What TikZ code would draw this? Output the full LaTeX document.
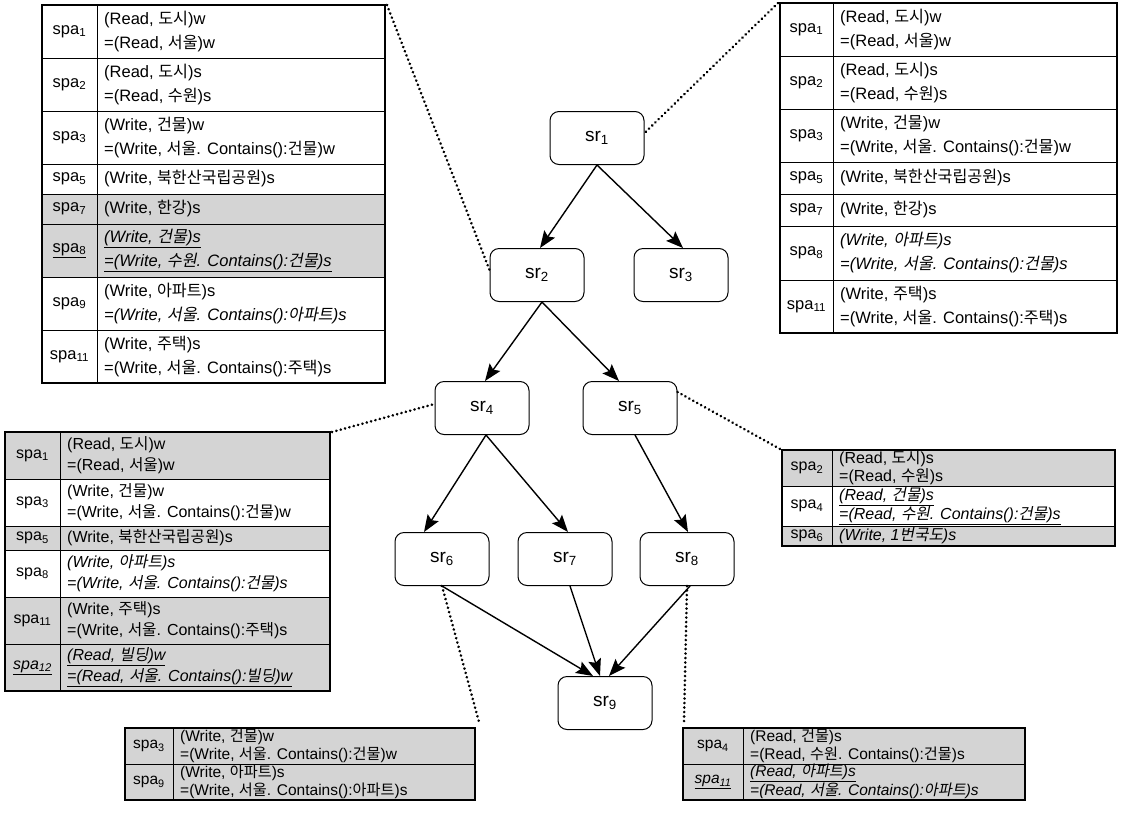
\documentclass[tikz,border=0pt]{standalone}
\usepackage{fontspec}
\setmainfont{Liberation Sans}
\newfontfamily\krfont{Noto Sans CJK KR}[Scale=0.98, ItalicFont={Noto Sans CJK KR}, ItalicFeatures={FakeSlant=0.2}]
\newcommand\kor[1]{{\krfont #1}}
\newcommand\spa[1]{spa\textsubscript{#1}}
\newcommand\srn[1]{sr\textsubscript{#1}}
\usetikzlibrary{arrows.meta}

\tikzset{
  srbox/.style={draw, line width=1pt, rounded corners=9pt, fill=white,
    minimum width=94pt, minimum height=53pt, inner sep=0pt,
    font=\fontsize{19}{19}\selectfont},
  flow/.style={-{Stealth[length=17pt,width=13pt,inset=3pt]}, line width=1.4pt},
  dotline/.style={line width=2.8pt, dash pattern=on 0.1pt off 4.4pt, line cap=round},
  rowline/.style={line width=0.9pt},
  frame/.style={line width=1.8pt},
  spalab/.style={inner sep=0pt, anchor=center, font=\spafont},
  spatext/.style={inner sep=0pt, anchor=west, align=left, font=\spafont},
}
\colorlet{cellgray}{black!17}

% one table row: name, top, bottom, fill, label, text
\newcommand\sparow[6]{%
  \fill[#4] (\spaL,#2) rectangle (\spaR,#3);
  \draw[rowline] (\spaL,#2) -- (\spaR,#2);
  \node[spalab] (#1-l) at ({(\spaL+\spaD)/2},{(#2+#3)/2}) {#5};
  \node[spatext] (#1-t) at ({\spaD+7},{(#2+#3)/2}) {#6};
}
% divider and outer frame of a table: top, bottom
\newcommand\spaframe[2]{%
  \draw[rowline] (\spaD,#1) -- (\spaD,#2);
  \draw[frame] (\spaL,#1) rectangle (\spaR,#2);
}

\begin{document}
\begin{tikzpicture}[x=1pt,y=-1pt]
\useasboundingbox[fill=white] (0,0) rectangle (1121,836);

% ---- table attached to sr2 ----
\def\spafont{\fontsize{16.5}{24}\selectfont}
\def\spaL{42}\def\spaD{97}\def\spaR{385}
\sparow{a1}{5}{58}{white}{\spa{1}}{(Read, \kor{도시})w\\=(Read, \kor{서울})w}
\sparow{a2}{58}{111}{white}{\spa{2}}{(Read, \kor{도시})s\\=(Read, \kor{수원})s}
\sparow{a3}{111}{164}{white}{\spa{3}}{(Write, \kor{건물})w\\=(Write, \kor{서울}. Contains():\kor{건물})w}
\sparow{a5}{164}{194}{white}{\spa{5}}{(Write, \kor{북한산국립공원})s}
\sparow{a7}{194}{224}{cellgray}{\spa{7}}{(Write, \kor{한강})s}
\sparow{a8}{224}{277}{cellgray}{\underline{\spa{8}}}{\underline{\itshape (Write, \kor{건물})s}\\\underline{\itshape =(Write, \kor{수원}. Contains():\kor{건물})s}}
\sparow{a9}{277}{330}{white}{\spa{9}}{(Write, \kor{아파트})s\\{\itshape =(Write, \kor{서울}. Contains():\kor{아파트})s}}
\sparow{a11}{330}{383}{white}{\spa{11}}{(Write, \kor{주택})s\\=(Write, \kor{서울}. Contains():\kor{주택})s}
\spaframe{5}{383}
\coordinate (a-ne) at (387,5);

% ---- table attached to sr1 ----
\def\spaL{780}\def\spaD{833}\def\spaR{1117}
\sparow{b1}{3}{56}{white}{\spa{1}}{(Read, \kor{도시})w\\=(Read, \kor{서울})w}
\sparow{b2}{56}{109}{white}{\spa{2}}{(Read, \kor{도시})s\\=(Read, \kor{수원})s}
\sparow{b3}{109}{162}{white}{\spa{3}}{(Write, \kor{건물})w\\=(Write, \kor{서울}. Contains():\kor{건물})w}
\sparow{b5}{162}{194}{white}{\spa{5}}{(Write, \kor{북한산국립공원})s}
\sparow{b7}{194}{226}{white}{\spa{7}}{(Write, \kor{한강})s}
\sparow{b8}{226}{280}{white}{\spa{8}}{{\itshape (Write, \kor{아파트})s}\\{\itshape =(Write, \kor{서울}. Contains():\kor{건물})s}}
\sparow{b11}{280}{333}{white}{\spa{11}}{(Write, \kor{주택})s\\=(Write, \kor{서울}. Contains():\kor{주택})s}
\spaframe{3}{333}
\coordinate (b-nw) at (778,3);

% ---- table attached to sr4 ----
\def\spafont{\fontsize{16}{21}\selectfont}
\def\spaL{5}\def\spaD{60}\def\spaR{330}
\sparow{c1}{432}{479}{cellgray}{\spa{1}}{(Read, \kor{도시})w\\=(Read, \kor{서울})w}
\sparow{c3}{479}{526}{white}{\spa{3}}{(Write, \kor{건물})w\\=(Write, \kor{서울}. Contains():\kor{건물})w}
\sparow{c5}{526}{550}{cellgray}{\spa{5}}{(Write, \kor{북한산국립공원})s}
\sparow{c8}{550}{597}{white}{\spa{8}}{{\itshape (Write, \kor{아파트})s}\\{\itshape =(Write, \kor{서울}. Contains():\kor{건물})s}}
\sparow{c11}{597}{644}{cellgray}{\spa{11}}{(Write, \kor{주택})s\\=(Write, \kor{서울}. Contains():\kor{주택})s}
\sparow{c12}{644}{691}{cellgray}{\underline{\itshape\spa{12}}}{\underline{\itshape (Read, \kor{빌딩})w}\\\underline{\itshape =(Read, \kor{서울}. Contains():\kor{빌딩})w}}
\spaframe{432}{691}
\coordinate (c-ne) at (332,432);

% ---- table attached to sr5 ----
\def\spafont{\fontsize{16}{18}\selectfont}
\def\spaL{782}\def\spaD{832}\def\spaR{1115}
\sparow{d2}{450}{486}{cellgray}{\spa{2}}{(Read, \kor{도시})s\\=(Read, \kor{수원})s}
\sparow{d4}{486}{526}{white}{\spa{4}}{\underline{\itshape (Read, \kor{건물})s}\\\underline{\itshape =(Read, \kor{수원}. Contains():\kor{건물})s}}
\sparow{d6}{526}{546}{cellgray}{\spa{6}}{{\itshape (Write, 1\kor{번국도})s}}
\spaframe{450}{546}
\coordinate (d-nw) at (780,449);

% ---- table attached to sr6 ----
\def\spafont{\fontsize{15.5}{17.5}\selectfont}
\def\spaL{125}\def\spaD{173}\def\spaR{475}
\sparow{e3}{728}{764}{cellgray}{\spa{3}}{(Write, \kor{건물})w\\=(Write, \kor{서울}. Contains():\kor{건물})w}
\sparow{e9}{764}{800}{cellgray}{\spa{9}}{(Write, \kor{아파트})s\\=(Write, \kor{서울}. Contains():\kor{아파트})s}
\spaframe{728}{800}
\coordinate (e-ne) at (479,722);

% ---- table attached to sr8 ----
\def\spaL{683}\def\spaD{743}\def\spaR{1025}
\sparow{f4}{728}{764}{cellgray}{\spa{4}}{(Read, \kor{건물})s\\=(Read, \kor{수원}. Contains():\kor{건물})s}
\sparow{f11}{764}{800}{cellgray}{\underline{\itshape\spa{11}}}{\underline{\itshape (Read, \kor{아파트})s}\\\underline{\itshape =(Read, \kor{서울}. Contains():\kor{아파트})s}}
\spaframe{728}{800}
\coordinate (f-nw) at (684,722);

% ---- graph nodes ----
\node[srbox] (sr1) at (597,138) {\srn{1}};
\node[srbox] (sr2) at (537,275) {\srn{2}};
\node[srbox] (sr3) at (681,275) {\srn{3}};
\node[srbox] (sr4) at (482,408) {\srn{4}};
\node[srbox] (sr5) at (630,408) {\srn{5}};
\node[srbox] (sr6) at (442,559) {\srn{6}};
\node[srbox] (sr7) at (565,559) {\srn{7}};
\node[srbox] (sr8) at (687,559) {\srn{8}};
\node[srbox] (sr9) at (605,703) {\srn{9}};

% ---- edges ----
\draw[flow] (sr1.south) -- ([xshift=3pt]sr2.north);
\draw[flow] (sr1.south) -- ([xshift=2pt]sr3.north);
\draw[flow] ([xshift=5pt]sr2.south) -- ([xshift=3pt]sr4.north);
\draw[flow] ([xshift=5pt]sr2.south) -- ([xshift=-11pt]sr5.north);
\draw[flow] ([xshift=4pt]sr4.south) -- ([xshift=-18pt]sr6.north);
\draw[flow] ([xshift=4pt]sr4.south) -- ([xshift=3pt]sr7.north);
\draw[flow] ([xshift=5pt]sr5.south) -- ([xshift=1pt]sr8.north);
\draw[flow] (sr6.south) -- ([xshift=-12pt]sr9.north);
\draw[flow] ([xshift=5pt]sr7.south) -- ([xshift=-5pt]sr9.north);
\draw[flow] ([xshift=3pt]sr8.south) -- ([xshift=4pt]sr9.north);

% ---- dotted links from nodes to their tables ----
\draw[dotline] (a-ne) -- ([yshift=5pt]sr2.west);
\draw[dotline] (b-nw) -- ([yshift=5pt]sr1.east);
\draw[dotline] (c-ne) -- ([yshift=4pt]sr4.west);
\draw[dotline] ([yshift=-11pt]sr5.north east) -- (d-nw);
\draw[dotline] (sr6.south) -- (e-ne);
\draw[dotline] (sr8.south) -- (f-nw);
\end{tikzpicture}
\end{document}
